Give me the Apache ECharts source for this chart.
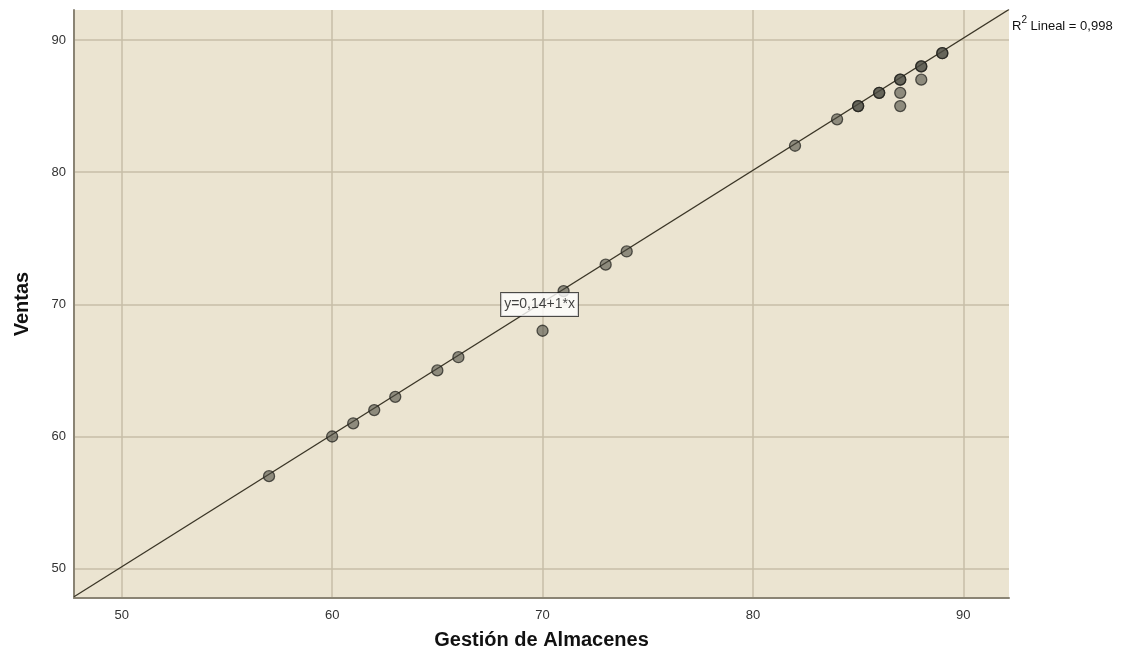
<!DOCTYPE html>
<html>
<head>
<meta charset="utf-8">
<script src="https://cdn.jsdelivr.net/npm/echarts@6/dist/echarts.min.js"></script>
<style>
  html, body { margin: 0; padding: 0; background: #ffffff; }
  #chart { width: 1128px; height: 665px; }
</style>
</head>
<body>
<div id="chart"></div>
<script>
// Observations: Gestión de Almacenes (x) vs Ventas (y)
const gestion = [57, 60, 61, 62, 63, 65, 66, 70, 71, 73, 74, 82, 84, 85, 85, 86, 86, 87, 87, 87, 87, 88, 88, 88, 89, 89];
const ventas  = [57, 60, 61, 62, 63, 65, 66, 68, 71, 73, 74, 82, 84, 85, 85, 86, 86, 87, 87, 86, 85, 88, 88, 87, 89, 89];

// Linear fit
const intercept = 0.14;
const slope = 1;
const fitLabel = 'y=0,14+1*x';
const r2Text = '0,998';

// Tick values on both axes
const ticks = [50, 60, 70, 80, 90];

const xMin = 47.73, xMax = 92.17;
const yMin = 47.78, yMax = 92.27;

const points = gestion.map((g, i) => [g, ventas[i]]);
const fitLine = [[xMin, intercept + slope * xMin], [xMax, intercept + slope * xMax]];

const chart = echarts.init(document.getElementById('chart'));
const font = 'Arial, "Liberation Sans", sans-serif';
const gridColor = '#c7bea7';

chart.setOption({
  animation: false,
  backgroundColor: '#ffffff',
  grid: { left: 74, right: 119, top: 10, bottom: 67, show: true, backgroundColor: '#ebe4d1', borderWidth: 0 },
  xAxis: {
    type: 'value', min: xMin, max: xMax,
    name: 'Gestión de Almacenes', nameLocation: 'middle', nameGap: 32,
    nameTextStyle: { fontFamily: font, fontSize: 20, fontWeight: 'bold', color: '#111' },
    axisLine: { show: true, onZero: false, lineStyle: { color: '#8a8474', width: 2 } },
    axisTick: { show: false },
    axisLabel: { fontFamily: font, fontSize: 13, color: '#333', margin: 11,
      customValues: ticks, formatter: v => String(v) },
    splitLine: { show: false }
  },
  yAxis: {
    type: 'value', min: yMin, max: yMax,
    name: 'Ventas', nameLocation: 'middle', nameGap: 42, nameRotate: 90,
    nameTextStyle: { fontFamily: font, fontSize: 20, fontWeight: 'bold', color: '#111' },
    axisLine: { show: true, onZero: false, lineStyle: { color: '#8a8474', width: 2 } },
    axisTick: { show: false },
    axisLabel: { fontFamily: font, fontSize: 13, color: '#333', margin: 8,
      customValues: ticks, formatter: v => String(v) },
    splitLine: { show: false }
  },
  series: [
    {
      // grid lines at the labelled values
      type: 'line', data: [], silent: true, z: 0,
      markLine: {
        silent: true, symbol: 'none', label: { show: false }, z: 0,
        lineStyle: { color: gridColor, type: 'solid', width: 1.5 },
        data: ticks.map(v => ({ xAxis: v })).concat(ticks.map(v => ({ yAxis: v })))
      }
    },
    {
      type: 'line', data: fitLine, showSymbol: false, symbol: 'none',
      lineStyle: { color: '#3a3526', width: 1.3 }, clip: true, silent: true, z: 3
    },
    {
      type: 'scatter', data: points, symbolSize: 11, z: 4,
      itemStyle: { color: 'rgba(72,72,64,0.72)', borderColor: 'rgba(30,30,26,0.9)', borderWidth: 1.3 }
    },
    {
      type: 'scatter', data: [[70, intercept + slope * 70]], symbolSize: 0, z: 6, silent: true,
      label: {
        show: true, position: 'inside', formatter: fitLabel, offset: [-3, 2],
        fontFamily: font, fontSize: 14, color: '#111',
        backgroundColor: '#ffffff', borderColor: '#222', borderWidth: 1,
        padding: [5, 3, 4, 3]
      }
    }
  ]
});

// R² annotation at the upper end of the fit line
const end = chart.convertToPixel({ gridIndex: 0 }, [xMax, intercept + slope * xMax]);
chart.setOption({
  graphic: [{
    type: 'text', left: end[0] + 3, top: end[1] + 6,
    style: {
      text: '{t|R}{s|2}{t| Lineal = ' + r2Text + '}',
      rich: {
        t: { fontFamily: font, fontSize: 13, fill: '#111', verticalAlign: 'bottom' },
        s: { fontFamily: font, fontSize: 10, fill: '#111', verticalAlign: 'top', padding: [0, 0, 7, 0] }
      }
    }
  }]
});
</script>
</body>
</html>
